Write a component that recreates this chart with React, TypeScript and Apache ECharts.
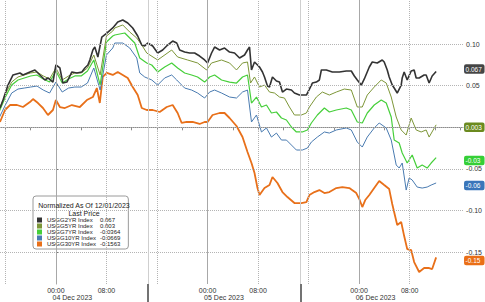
import React, { useEffect, useRef } from 'react';
import * as echarts from 'echarts';

// x = hours relative to 04 Dec 2023 00:00, each point is [hour, normalized value]
const seriesNames = ['USGG2YR', 'USGG5YR', 'USGG7YR', 'USGG10YR', 'USGG30YR'];

const usgg2yr = [
  [-8.85, 0.0232], [-8.37, 0.0328], [-7.58, 0.0508], [-6.79, 0.0629], [-5.69, 0.0653], [-5.21, 0.0629], [-4.11, 0.0665], [-3.32, 0.0689], [-2.53, 0.0629], [-1.74, 0.0569], [-1.26, 0.0593], [-0.47, 0.0544],
  [0, 0.0749], [0.63, 0.0713], [1.11, 0.0532], [1.74, 0.0544], [2.53, 0.0665], [3.32, 0.0653], [4.11, 0.0665], [4.58, 0.0713], [5.06, 0.0749], [5.37, 0.0809], [5.85, 0.0929], [6.16, 0.0965], [6.64, 0.0845], [7.27, 0.1085],
  [8.06, 0.1133], [9.0, 0.1194], [9.79, 0.1266], [10.58, 0.129], [11.37, 0.1254], [12.16, 0.1194], [12.95, 0.1097], [13.59, 0.0989], [14.06, 0.0977], [14.53, 0.1013], [15.32, 0.0977], [16.11, 0.0893], [16.9, 0.0929],
  [17.69, 0.0989], [18.48, 0.1037], [19.12, 0.1013], [19.59, 0.0929], [20.38, 0.0905], [21.17, 0.0893], [21.96, 0.0893], [22.75, 0.0857], [23.54, 0.0809], [24.01, 0.0773], [24.64, 0.0893], [25.12, 0.0965],
  [25.91, 0.0929], [26.7, 0.0953], [27.49, 0.0905], [28.28, 0.0893], [29.07, 0.0833], [29.86, 0.0869], [30.33, 0.0929], [30.65, 0.0965], [30.96, 0.0689], [31.44, 0.0785], [32.23, 0.0725], [32.7, 0.0665],
  [33.02, 0.0605], [33.49, 0.0496], [33.81, 0.0484], [34.28, 0.0605], [34.91, 0.0556], [35.39, 0.0544], [35.86, 0.0424], [36.49, 0.046], [37.28, 0.0448], [37.76, 0.0412], [38.55, 0.0388], [39.65, 0.0388],
  [40.13, 0.046], [40.6, 0.0532], [41.23, 0.0544], [41.71, 0.0569], [42.02, 0.0689], [42.81, 0.0689], [43.76, 0.0665], [44.87, 0.0665], [45.97, 0.0677], [46.76, 0.0677], [47.24, 0.0617], [47.71, 0.0569],
  [48.34, 0.0508], [48.82, 0.0581], [49.61, 0.0725], [50.08, 0.0785], [50.87, 0.0773], [51.66, 0.0809], [51.97, 0.0785], [52.45, 0.0689], [52.76, 0.0605], [53.24, 0.0508], [53.55, 0.0472], [54.03, 0.0412],
  [54.66, 0.0508], [54.82, 0.0593], [55.13, 0.0665], [55.61, 0.0569], [56.24, 0.0677], [56.71, 0.0689], [57.03, 0.0593], [57.5, 0.0593], [58.29, 0.0629], [58.61, 0.0629], [59.08, 0.0532], [59.56, 0.0617], [60.19, 0.067],
];

const usgg5yr = [
  [-9, 0.0208], [-8, 0.04], [-7, 0.0544], [-6, 0.0605], [-5, 0.0629], [-4, 0.0653], [-3, 0.0665], [-2, 0.0617], [-1, 0.0581], [0, 0.0713], [1, 0.0569], [2, 0.0617], [3, 0.0653], [4, 0.0653], [5, 0.0713],
  [6, 0.0869], [7, 0.0629], [8, 0.1097], [9, 0.1157], [9.32, 0.1194], [10.58, 0.123], [11.69, 0.1145], [12.8, 0.1073], [13.59, 0.0989], [14.38, 0.0893], [16.11, 0.0809], [18.33, 0.0929], [19.27, 0.0845],
  [20.85, 0.0809], [22.43, 0.0773], [23.85, 0.0689], [24.64, 0.0773], [26.22, 0.0809], [27.49, 0.0773], [28.59, 0.0689], [29.54, 0.0773], [30.33, 0.0785], [30.81, 0.0532], [31.44, 0.0605], [32.23, 0.0484],
  [33.02, 0.0508], [33.81, 0.0424], [34.6, 0.0412], [35.39, 0.0364], [36.18, 0.0352], [36.97, 0.0244], [37.76, 0.0148], [38.86, 0.0148], [39.65, 0.0172], [40.13, 0.0244], [41.23, 0.0364], [42.18, 0.0424],
  [43.29, 0.0388], [44.39, 0.0424], [45.66, 0.046], [46.76, 0.0448], [47.71, 0.0244], [48.5, 0.0244], [49.29, 0.0388], [50.39, 0.0484], [51.5, 0.0569], [52.29, 0.0532], [53.08, 0.0364], [53.87, 0.0124],
  [54.66, -0.0032], [55.45, -0.0093], [56.24, 0.0112], [57.03, -0.0032], [57.82, -0.0056], [58.61, -0.0032], [59.08, -0.0117], [60.19, 0.003],
];

const usgg7yr = [
  [-9, 0.0184], [-8, 0.0364], [-7, 0.0508], [-6, 0.0569], [-5, 0.0593], [-4, 0.0617], [-3, 0.0629], [-2, 0.0581], [-1, 0.0544], [0, 0.0677], [1, 0.0532], [2, 0.0581], [3, 0.0617], [4, 0.0617], [5, 0.0677],
  [6, 0.0809], [7, 0.0508], [8, 0.1025], [9, 0.1097], [9.32, 0.1109], [10.9, 0.1133], [12.48, 0.1013], [13.27, 0.0833], [14.38, 0.0773], [15.17, 0.0749], [16.11, 0.0665], [17.22, 0.0725], [18.33, 0.0773],
  [19.27, 0.0713], [20.38, 0.0653], [21.48, 0.0629], [22.43, 0.0605], [23.54, 0.0544], [24.33, 0.0605], [25.12, 0.0629], [26.22, 0.0569], [27.49, 0.0544], [28.59, 0.0532], [29.54, 0.0605], [30.33, 0.0629],
  [30.96, 0.0292], [31.75, 0.0364], [32.54, 0.0244], [33.33, 0.0268], [34.12, 0.0172], [34.91, 0.0184], [35.7, 0.0112], [36.49, 0.0088], [37.28, 0.0004], [38.07, -0.0056], [39.02, -0.0056], [39.81, -0.0032],
  [40.44, 0.0052], [41.39, 0.0148], [42.5, 0.0232], [43.29, 0.0184], [44.39, 0.0208], [45.97, 0.0232], [46.76, 0.0208], [47.71, 0.0064], [48.5, 0.0052], [49.29, 0.0172], [50.39, 0.0268], [51.5, 0.0328],
  [52.29, 0.0292], [53.08, 0.0124], [53.55, -0.0153], [54.34, -0.0189], [54.82, -0.0309], [55.61, -0.0429], [56.4, -0.0333], [57.19, -0.0489], [57.98, -0.0453], [58.77, -0.0489], [59.4, -0.0429], [60.19, -0.0364],
];

const usgg10yr = [
  [-9, 0.0112], [-8, 0.0268], [-7, 0.0412], [-6, 0.046], [-5, 0.0472], [-4, 0.0484], [-3, 0.0496], [-2, 0.0448], [-1, 0.0412], [0, 0.0544], [1, 0.0424], [2, 0.0472], [3, 0.0484], [4, 0.0484], [5, 0.0532],
  [6, 0.0713], [7, 0.0448], [8, 0.0869], [9, 0.0953], [9.32, 0.1013], [10.58, 0.1013], [11.69, 0.0953], [12.8, 0.0833], [13.27, 0.0653], [14.06, 0.0605], [15.17, 0.0569], [16.11, 0.0508], [17.22, 0.0593],
  [18.33, 0.0629], [19.12, 0.0569], [20.38, 0.0472], [21.48, 0.0448], [22.43, 0.0412], [23.54, 0.0352], [24.33, 0.0424], [25.12, 0.0448], [26.22, 0.0412], [27.49, 0.0364], [28.59, 0.0352], [29.54, 0.0424],
  [30.33, 0.0448], [30.96, 0.0064], [31.75, 0.0148], [32.54, -0.0056], [33.33, -0.0008], [34.12, -0.0117], [34.91, -0.0069], [35.7, -0.0153], [36.49, -0.0153], [37.28, -0.0213], [38.07, -0.0273],
  [39.02, -0.0273], [39.81, -0.0249], [40.44, -0.0177], [41.39, -0.0117], [42.5, -0.0056], [43.29, -0.0069], [44.39, -0.0032], [45.97, -0.0008], [46.76, -0.0032], [47.71, -0.0177], [48.5, -0.0237],
  [49.29, -0.0117], [50.39, -0.0008], [51.18, 0.0052], [52.29, -0.0008], [53.08, -0.0153], [53.87, -0.0453], [54.34, -0.0489], [54.82, -0.0429], [55.45, -0.0754], [55.92, -0.0609], [56.4, -0.0633],
  [57.19, -0.0718], [57.98, -0.073], [58.77, -0.0718], [59.4, -0.0694], [60.19, -0.0669],
];

const usgg30yr = [
  [-8.85, 0.0064], [-8.06, 0.0208], [-7.27, 0.0268], [-6.16, 0.0268], [-5.21, 0.0244], [-4.11, 0.0304], [-3.63, 0.034], [-2.84, 0.0292], [-2.05, 0.0232], [-1.26, 0.0148], [-0.47, 0.0208],
  [0, 0.0328], [0.63, 0.0244], [1.42, 0.0232], [2.53, 0.0268], [3.79, 0.0244], [4.9, 0.0328], [5.85, 0.0364], [6.48, 0.0472], [6.95, 0.0292], [7.42, 0.0605], [8.06, 0.0653], [9.0, 0.0629], [9.79, 0.0665],
  [10.58, 0.0629], [11.37, 0.0593], [12.16, 0.0484], [12.95, 0.0388], [13.59, 0.0232], [14.38, 0.0208], [15.32, 0.0208], [16.43, 0.0184], [17.54, 0.0244], [18.48, 0.0268], [19.27, 0.0172], [19.91, 0.0052],
  [20.7, 0.0064], [21.64, 0.0064], [22.75, 0.004], [23.54, 0.0064], [24.01, 0.0064], [24.8, 0.0148], [25.91, 0.0172], [26.7, 0.0172], [27.49, 0.0112], [28.59, 0.0016], [29.54, -0.0117], [30.33, -0.0297],
  [30.96, -0.0429], [31.44, -0.0549], [31.91, -0.073], [32.23, -0.0814], [33.02, -0.073], [33.81, -0.0694], [34.28, -0.0597], [35.07, -0.0669], [35.86, -0.0778], [36.65, -0.0838], [37.76, -0.091],
  [38.86, -0.091], [39.65, -0.0898], [40.13, -0.0814], [40.92, -0.0778], [41.71, -0.0754], [42.5, -0.079], [43.29, -0.0778], [44.39, -0.073], [45.34, -0.0718], [46.45, -0.073], [47.55, -0.079],
  [48.03, -0.0862], [48.5, -0.0958], [48.97, -0.0874], [49.61, -0.0814], [50.39, -0.073], [51.18, -0.0645], [51.97, -0.0694], [52.76, -0.0742], [53.24, -0.0922], [54.03, -0.1174], [54.66, -0.1138],
  [55.13, -0.1307], [55.61, -0.1463], [56.24, -0.1475], [56.71, -0.1619], [57.5, -0.1739], [58.29, -0.1691], [59.08, -0.1691], [59.56, -0.1703], [60.19, -0.1563],
];

const lastPrices = ['0.067', '0.003', '-0.0364', '-0.0669', '-0.1563'];
const lastValues = [0.067, 0.003, -0.0364, -0.0669, -0.1563];

const lineColors = ['#333333', '#7d9638', '#46cf3a', '#4a7bb0', '#e8701a'];
const tagColors = ['#454545', '#6b8a1f', '#36cf36', '#3a76ba', '#ea6f16'];
const lineWidths = [1.6, 1, 1.2, 1, 1.8];

const yTickValues = [0.1, 0.05, 0, -0.05, -0.1, -0.15];
const yLabelValues = [0.1, 0.05, -0.05, -0.1, -0.15];
const xMinorTicks = [-8, -4, 0, 4, 8, 12, 16, 20, 24, 28, 32, 36, 40, 44, 48, 52, 56, 60, 64];
const xLabelTicks = [0, 8, 24, 32, 48, 56];
const xMidnightLines = [0, 24, 48];
const xDottedLines = [-8, 8, 16, 32, 40, 56];
const daySeparators = [14.6, 38.7];
const dateLabelPos = [2.6, 26.6, 50.6];
const dateLabels = ['04 Dec 2023', '05 Dec 2023', '06 Dec 2023'];

const X_MIN = -8.85;
const X_MAX = 64.45;
const Y_MIN = -0.1883;
const Y_MAX = 0.153;

const FONT = '"Liberation Sans", Arial, sans-serif';

export default function App() {
  const ref = useRef<HTMLDivElement>(null);

  useEffect(() => {
    document.body.style.margin = '0';
    if (!ref.current) return;
    const chart = echarts.init(ref.current, undefined, { renderer: 'svg' });

    const seriesData = [usgg2yr, usgg5yr, usgg7yr, usgg10yr, usgg30yr];

    const dotted = { type: 'dotted', color: '#b4b4b4', width: 1 };
    const gridLines: any[] = [
      ...yTickValues.map((v) => ({ yAxis: v, lineStyle: dotted })),
      ...xDottedLines.map((v) => ({ xAxis: v, lineStyle: dotted })),
      ...xMidnightLines.map((v) => ({ xAxis: v, lineStyle: { type: 'solid', color: '#a8a8a8', width: 1 } })),
      ...daySeparators.map((v) => ({ xAxis: v, lineStyle: { type: 'solid', color: '#cfcfcf', width: 1 } })),
    ];

    const series: any[] = [
      {
        name: '_grid',
        type: 'line',
        data: [[X_MIN, 0], [X_MAX, 0]],
        symbol: 'none',
        silent: true,
        z: 1,
        lineStyle: { color: 'rgba(0,0,0,0)', width: 0 },
        markLine: {
          symbol: ['none', 'none'],
          silent: true,
          animation: false,
          label: { show: false },
          data: gridLines,
        },
      },
      ...seriesNames.map((name, i) => ({
        name,
        type: 'line',
        color: lineColors[i],
        data: seriesData[i],
        symbol: 'none',
        showSymbol: false,
        z: 2 + (4 - i) * 0.1,
        lineStyle: { color: lineColors[i], width: lineWidths[i] },
        markLine: {
          symbol: ['none', 'none'],
          silent: true,
          animation: false,
          lineStyle: { color: 'rgba(0,0,0,0)', width: 0 },
          label: {
            show: true,
            position: 'end',
            distance: 1,
            formatter: lastPrices[i],
            color: '#ffffff',
            backgroundColor: tagColors[i],
            padding: [1.5, 0.5, 1, 1.5],
            borderRadius: 2,
            fontSize: 6.5,
            fontFamily: FONT,
            width: 18.5,
            overflow: 'truncate',
            ellipsis: '',
          },
          data: [{ yAxis: lastValues[i] }],
        },
      })),
    ];

    const option: any = {
      animation: false,
      backgroundColor: '#ffffff',
      grid: { left: 0, right: 21, top: 0, bottom: 18, containLabel: false },
      xAxis: [
        {
          type: 'value',
          min: X_MIN,
          max: X_MAX,
          position: 'bottom',
          axisLine: { show: true, lineStyle: { color: '#8c8c8c', width: 1 } },
          axisTick: { show: true, customValues: xMinorTicks, length: 3, lineStyle: { color: '#8c8c8c' } },
          axisLabel: {
            show: true,
            customValues: xLabelTicks,
            formatter: (v: number) => (((v % 24) + 24) % 24 === 0 ? '00:00' : '08:00'),
            margin: 3,
            fontSize: 7,
            color: '#333333',
            fontFamily: FONT,
          },
          splitLine: { show: false },
        },
        {
          type: 'value',
          min: X_MIN,
          max: X_MAX,
          position: 'bottom',
          offset: 0,
          axisLine: { show: false },
          axisTick: { show: true, customValues: daySeparators, length: 18, lineStyle: { color: '#444444', width: 1.5 } },
          axisLabel: {
            show: true,
            customValues: dateLabelPos,
            formatter: (v: number) => {
              let best = 0;
              dateLabelPos.forEach((p, k) => {
                if (Math.abs(p - v) < Math.abs(dateLabelPos[best] - v)) best = k;
              });
              return dateLabels[best];
            },
            margin: 10,
            fontSize: 7,
            color: '#333333',
            fontFamily: FONT,
          },
          splitLine: { show: false },
        },
      ],
      yAxis: {
        type: 'value',
        position: 'right',
        min: Y_MIN,
        max: Y_MAX,
        axisLine: { show: true, lineStyle: { color: '#9a9a9a', width: 1 } },
        axisTick: { show: true, customValues: yTickValues, length: 2, lineStyle: { color: '#666666' } },
        axisLabel: {
          show: true,
          customValues: yLabelValues,
          formatter: (v: number) => v.toFixed(2),
          margin: 3,
          fontSize: 7,
          color: '#333333',
          fontFamily: FONT,
        },
        splitLine: { show: false },
      },
      legend: {
        data: seriesNames,
        orient: 'vertical',
        left: 33,
        top: 196,
        padding: [21, 8, 2, 4],
        itemWidth: 5,
        itemHeight: 5,
        itemGap: 0,
        icon: 'rect',
        selectedMode: false,
        backgroundColor: '#ffffff',
        borderColor: '#9a9a9a',
        borderWidth: 1,
        borderRadius: 3,
        formatter: (name: string) => `{n|${name} Index}{v|${lastPrices[seriesNames.indexOf(name)]}}`,
        textStyle: {
          fontSize: 6,
          color: '#222222',
          fontFamily: FONT,
          rich: {
            n: { width: 53, fontSize: 6, lineHeight: 8.3, fontFamily: FONT, color: '#222222' },
            v: { fontSize: 6, lineHeight: 8.3, fontFamily: FONT, color: '#222222' },
          },
        },
      },
      graphic: [
        {
          type: 'text',
          x: 84,
          y: 205,
          z: 100,
          style: {
            text: 'Normalized As Of 12/01/2023',
            fill: '#222222',
            font: `7px ${FONT}`,
            align: 'center',
            verticalAlign: 'middle',
            textAlign: 'center',
            textVerticalAlign: 'middle',
          },
        },
        {
          type: 'text',
          x: 84,
          y: 213.5,
          z: 100,
          style: {
            text: 'Last Price',
            fill: '#222222',
            font: `7px ${FONT}`,
            align: 'center',
            verticalAlign: 'middle',
            textAlign: 'center',
            textVerticalAlign: 'middle',
          },
        },
      ],
      series,
    };

    chart.setOption(option);
    return () => chart.dispose();
  }, []);

  return <div ref={ref} style={{ position: 'absolute', left: 0, top: 0, width: 485, height: 302 }} />;
}
